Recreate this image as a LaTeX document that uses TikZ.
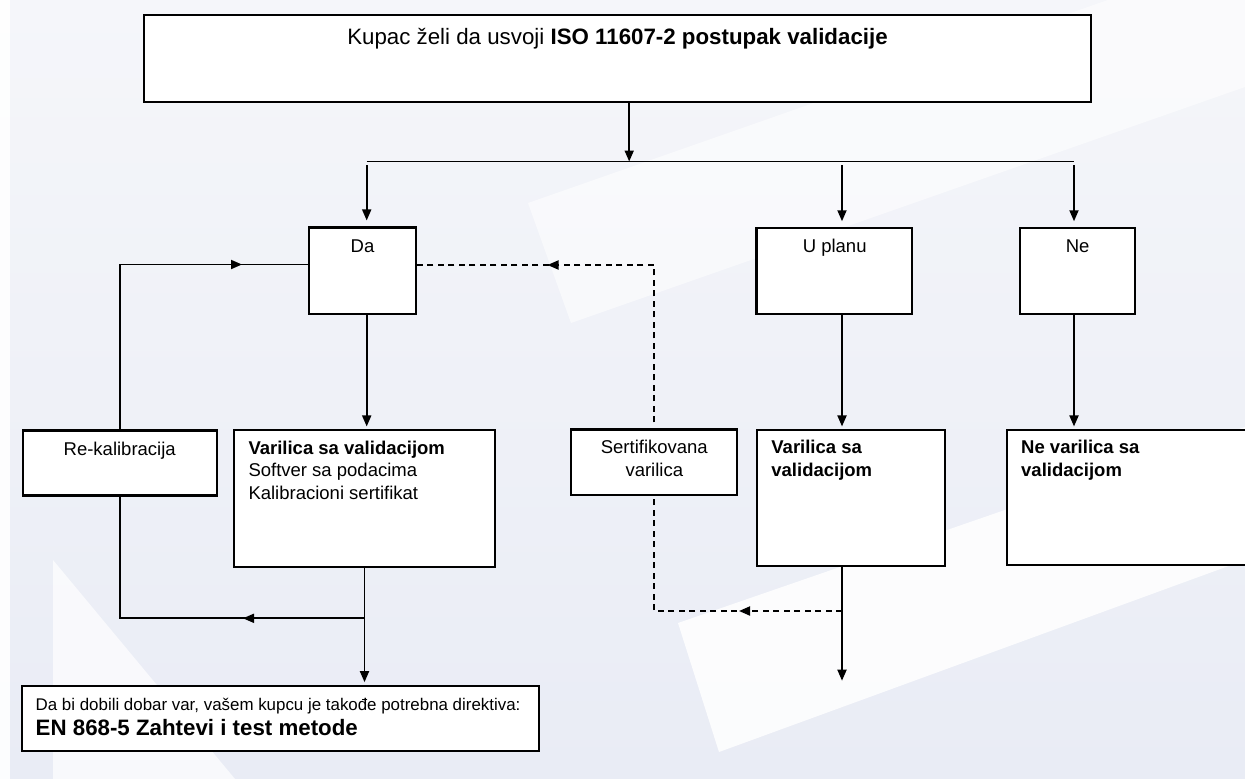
\documentclass[tikz,border=0pt]{standalone}
\usepackage{fontspec}
\setmainfont{Liberation Sans}
\usetikzlibrary{arrows.meta}
\definecolor{bgtop}{HTML}{F5F6FA}
\definecolor{bgbot}{HTML}{E9ECF5}
\tikzset{
  box/.style={draw=black, line width=2.1pt, fill=white, inner sep=0pt, rectangle},
  conn/.style={line width=1.8pt, draw=black},
  dconn/.style={line width=1.8pt, draw=black, dash pattern=on 6pt off 4.5pt},
  tipend/.style={-{Triangle[length=11pt,width=9pt]}},
  txt/.style={inner sep=0pt, font=\fontsize{18.5pt}{22pt}\selectfont},
  bigtxt/.style={inner sep=0pt, font=\fontsize{22.3pt}{26pt}\selectfont},
  smalltxt/.style={inner sep=0pt, font=\fontsize{16.9pt}{20pt}\selectfont},
}
\begin{document}
\begin{tikzpicture}[x=1pt,y=-1pt]
\useasboundingbox (0,0) rectangle (1245,779);
\clip (0,0) rectangle (1245,779);
% background
\shade[top color=bgtop, bottom color=bgbot] (0,0) rectangle (1245,779);
\fill[white, opacity=0.55] (528,203) -- (571,323) -- (1245,87) -- (1245,-48) -- cycle;
\fill[white, opacity=0.85] (678,623) -- (719,752) -- (1245,560) -- (1245,427) -- cycle;
\fill[white, opacity=0.7] (53,560) -- (53,779) -- (235,779) -- cycle;
\fill[white, opacity=0.9] (0,0) rectangle (10,779);

% boxes
\node[box, minimum width=947pt, minimum height=86.7pt] (top) at (617.5,58.65) {};
\node[box, minimum width=107pt, minimum height=86.8pt] (da) at (362.5,270.9) {};
\node[box, minimum width=155.9pt, minimum height=86pt] (uplanu) at (834.45,271.3) {};
\node[box, minimum width=114.9pt, minimum height=86pt] (ne) at (1077.65,271.3) {};
\node[box, minimum width=194pt, minimum height=65pt] (rk) at (119.7,463) {};
\node[box, minimum width=261pt, minimum height=136.7pt] (vsv) at (364.5,498.35) {};
\node[box, minimum width=166.2pt, minimum height=65.5pt] (sert) at (653.9,462.25) {};
\node[box, minimum width=187.7pt, minimum height=135.7pt] (vsv2) at (851.15,497.85) {};
\node[box, minimum width=248.3pt, minimum height=135pt] (nev) at (1130.85,497.5) {};
\node[box, minimum width=517pt, minimum height=65pt] (dir) at (280.8,718.2) {};

% texts
\node[bigtxt, anchor=base] (ttop) at (617.5,44) {Kupac želi da usvoji \textbf{ISO 11607-2 postupak validacije}};
\node[txt, anchor=base] (tda) at (362.5,252.5) {Da};
\node[txt, anchor=base] (tup) at (834.7,252.5) {U planu};
\node[txt, anchor=base] (tne) at (1077.6,252.5) {Ne};
\node[txt, anchor=base] (trk) at (119.7,455) {Re-kalibracija};
\node[txt, anchor=base west] (tv1) at (248.3,454.3) {\textbf{Varilica sa validacijom}};
\node[txt, anchor=base west] (tv2) at (248.3,476.7) {Softver sa podacima};
\node[txt, anchor=base west] (tv3) at (248.3,499) {Kalibracioni sertifikat};
\node[txt, anchor=base] (ts1) at (654.3,453.3) {Sertifikovana};
\node[txt, anchor=base] (ts2) at (654.3,476.5) {varilica};
\node[txt, anchor=base west] (tw1) at (771.2,453.8) {\textbf{Varilica sa}};
\node[txt, anchor=base west] (tw2) at (771.2,476.3) {\textbf{validacijom}};
\node[txt, anchor=base west] (tn1) at (1021,453.8) {\textbf{Ne varilica sa}};
\node[txt, anchor=base west] (tn2) at (1021,476.3) {\textbf{validacijom}};
\node[smalltxt, anchor=base west] (td1) at (35.5,710) {Da bi dobili dobar var, vašem kupcu je takođe potrebna direktiva:};
\node[bigtxt, anchor=base west] (td2) at (35.5,735) {\textbf{EN 868-5 Zahtevi i test metode}};

% coordinates
\coordinate (hub) at (629.2,161.5);
\coordinate (hl) at (366.7,161.5);
\coordinate (hr) at (1074,161.5);
\coordinate (s1) at (366.7,165);
\coordinate (s2) at (842,165);
\coordinate (s3) at (1074,165);
\coordinate (k1) at (119.7,264.5);
\coordinate (m1) at (242,264.5);
\coordinate (j1) at (364.5,618.3);
\coordinate (j2) at (119.7,618.3);
\coordinate (m2) at (243,618.3);
\coordinate (q1) at (653.9,265);
\coordinate (m3) at (547.5,265);
\coordinate (q2) at (842,611);
\coordinate (q3) at (653.9,611);
\coordinate (m4) at (739,611);
\coordinate (endp) at (842,680.7);

% connectors
\draw[conn, tipend] (top.south -| hub) -- (hub);
\draw[conn] (hl) -- (hr);
\draw[conn, tipend, shorten >=6pt] (s1) -- (s1 |- da.north);
\draw[conn, tipend, shorten >=6pt] (s2) -- (s2 |- uplanu.north);
\draw[conn, tipend, shorten >=6pt] (s3) -- (s3 |- ne.north);
\draw[conn, tipend, shorten >=2.5pt] (da.south -| s1) -- (vsv.north -| s1);
\draw[conn, tipend, shorten >=2.5pt] (uplanu.south -| s2) -- (vsv2.north -| s2);
\draw[conn, tipend, shorten >=2.5pt] (ne.south -| s3) -- (nev.north -| s3);
\draw[conn, tipend, shorten >=2.5pt] (vsv.south) -- (vsv.south |- dir.north);
\draw[conn, tipend] (vsv2.south -| s2) -- (endp);
% re-calibration loop
\draw[conn] (rk.north) -- (k1) -- (k1 -| da.west);
\draw[conn, tipend] (k1) -- (m1);
\draw[conn] (rk.south) -- (j2) -- (j1);
\draw[conn, tipend] (j1) -- (m2);
% dashed certified loop
\draw[dconn, shorten <=6pt] (sert.north) -- (q1) -- (q1 -| da.east);
\draw[conn, tipend, shorten <=4pt] ([xshift=14pt]m3) -- (m3);
\draw[dconn] (q2) -- (q3) -- (sert.south);
\draw[conn, tipend, shorten <=4pt] ([xshift=14pt]m4) -- (m4);
\end{tikzpicture}
\end{document}
